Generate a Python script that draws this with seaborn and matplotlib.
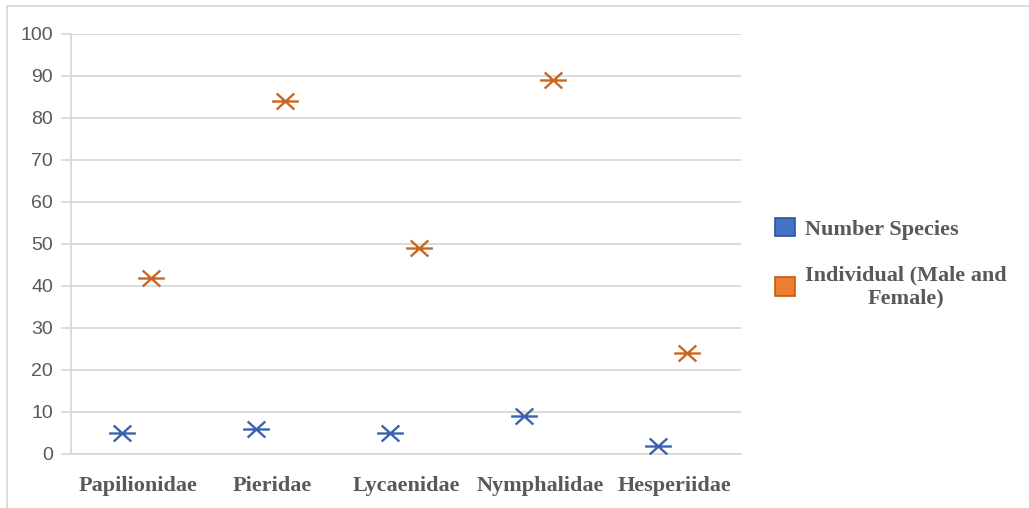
import matplotlib
matplotlib.use('Agg')
import matplotlib.pyplot as plt
from matplotlib.path import Path
from matplotlib.patches import Patch
from matplotlib.lines import Line2D
import seaborn as sns
import pandas as pd

# Data
families = ['Papilionidae', 'Pieridae', 'Lycaenidae', 'Nymphalidae', 'Hesperiidae']
number_species = [5, 6, 5, 9, 2]
individuals = [42, 84, 49, 89, 24]
series_names = ['Number Species', 'Individual (Male and\nFemale)']

blue = '#4472C4'
orange = '#ED7D31'
blue_edge = '#3A62AE'
orange_edge = '#C9661F'
grey_text = '#595959'
grid_col = '#D9D9D9'

sns.set_theme(style='white')

# Excel-like "star" marker: horizontal bar plus two diagonals
star = Path([(-1, 0), (1, 0), (-0.66, 0.6), (0.66, -0.6), (-0.66, -0.6), (0.66, 0.6)],
            [Path.MOVETO, Path.LINETO] * 3)

fig = plt.figure(figsize=(10.29, 5.08), dpi=100)
ax = fig.add_axes([71 / 1029, 1 - 454 / 508, 670 / 1029, 420 / 508])

df1 = pd.DataFrame({'x': [i - 0.12 for i in range(len(families))], 'y': number_species})
df2 = pd.DataFrame({'x': [i + 0.095 for i in range(len(families))], 'y': individuals})

sns.scatterplot(data=df1, x='x', y='y', ax=ax, marker=star, s=370,
                color=blue_edge, edgecolor=blue_edge, linewidth=1.7, zorder=3, legend=False)
sns.scatterplot(data=df2, x='x', y='y', ax=ax, marker=star, s=370,
                color=orange_edge, edgecolor=orange_edge, linewidth=1.7, zorder=3, legend=False)

ax.set_xlim(-0.5, len(families) - 0.5)
ax.set_ylim(0, 100)
ax.set_yticks(range(0, 101, 10))
ax.set_xticks(range(len(families)))
ax.set_xticklabels(families, family='Liberation Serif', fontweight='bold',
                   fontsize=16, color=grey_text)
for lbl in ax.get_yticklabels():
    lbl.set_family('Liberation Sans')
ax.tick_params(axis='y', labelsize=14, labelcolor=grey_text, length=7,
               color=grid_col, width=1.3, left=True, pad=6)
ax.tick_params(axis='x', length=0, pad=16)
ax.set_xlabel('')
ax.set_ylabel('')

ax.grid(axis='y', color=grid_col, linewidth=1.3)
ax.set_axisbelow(True)
for side in ['top', 'right']:
    ax.spines[side].set_visible(False)
ax.spines['left'].set_color(grid_col)
ax.spines['left'].set_linewidth(1.3)
ax.spines['bottom'].set_color(grid_col)
ax.spines['bottom'].set_linewidth(1.3)

handles = [Patch(facecolor=blue, edgecolor='#2F5597', linewidth=1.2),
           Patch(facecolor=orange, edgecolor='#C55A11', linewidth=1.2)]
leg = fig.legend(handles, series_names, loc='center left', bbox_to_anchor=(775 / 1029, 1 - 263 / 508),
                 frameon=False, borderpad=0, borderaxespad=0,
                 handlelength=0.9, handleheight=0.9, handletextpad=0.45,
                 labelspacing=1.15, prop={'family': 'Liberation Serif', 'weight': 'bold', 'size': 16})
for t in leg.get_texts():
    t.set_color(grey_text)
    t.set_multialignment('center')

# light outer border (left and top edges visible)
fig.add_artist(Line2D([7 / 1029, 7 / 1029], [0, 1 - 5.5 / 508], color=grid_col, linewidth=1.3))
fig.add_artist(Line2D([7 / 1029, 1], [1 - 5.5 / 508, 1 - 5.5 / 508], color=grid_col, linewidth=1.3))

fig.savefig('out.png', dpi=100)
